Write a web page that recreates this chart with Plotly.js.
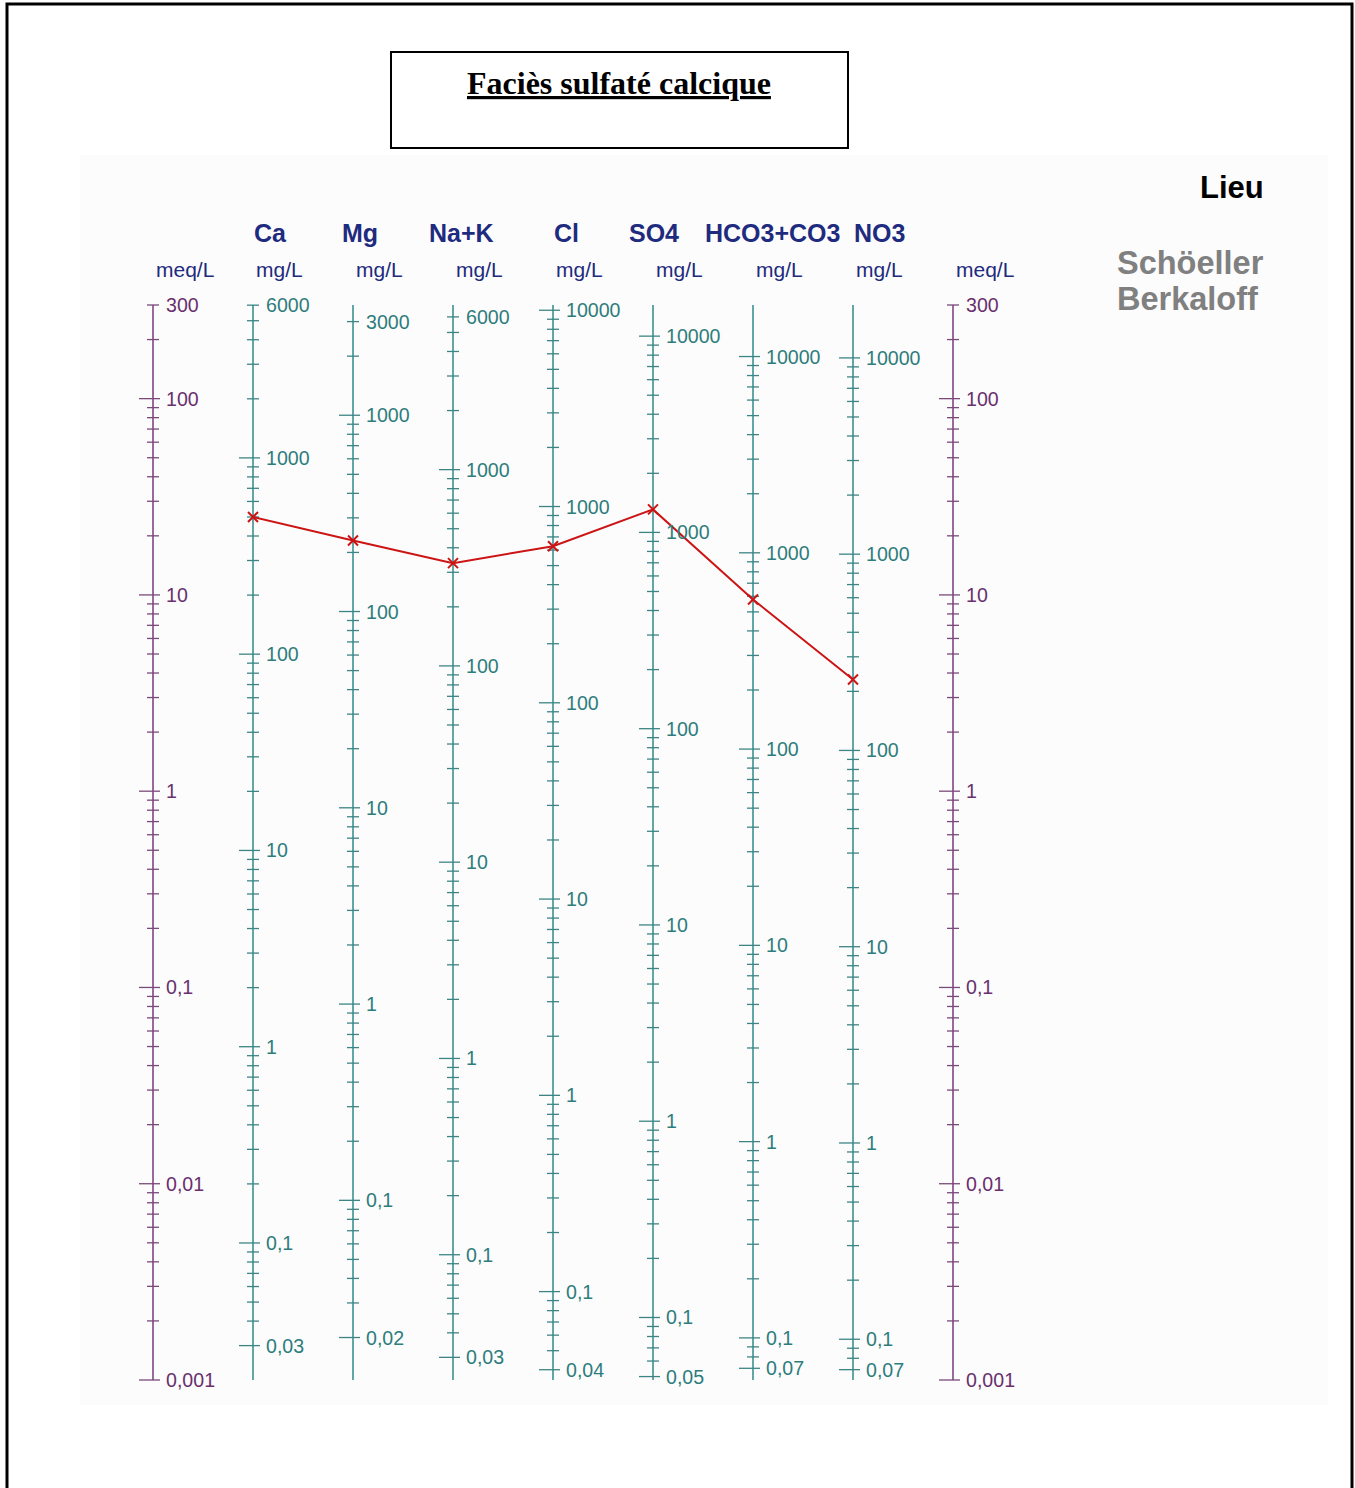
<!DOCTYPE html>
<html><head><meta charset="utf-8">
<script src="https://cdn.plot.ly/plotly-3.0.1.min.js"></script>
<style>body{margin:0;background:#fff}#chart{width:1355px;height:1488px}</style>
</head><body><div id="chart"></div><script>
// ---- data ----
const ions = ['Ca','Mg','Na+K','Cl','SO4','HCO3+CO3','NO3'];
const eqWeights = [20.04, 12.15, 23.0, 35.45, 48.03, 61.02, 62.0];   // mg per meq
const sampleMgL = [500, 230, 334, 628, 1310, 578, 230];               // Faciès sulfaté calcique
const meqLabels = [300, 100, 10, 1, 0.1, 0.01, 0.001];
const caLabels   = [6000, 1000, 100, 10, 1, 0.1, 0.03];
const mgLabels   = [3000, 1000, 100, 10, 1, 0.1, 0.02];
const naLabels   = [6000, 1000, 100, 10, 1, 0.1, 0.03];
const clLabels   = [10000, 1000, 100, 10, 1, 0.1, 0.04];
const so4Labels  = [10000, 1000, 100, 10, 1, 0.1, 0.05];
const hco3Labels = [10000, 1000, 100, 10, 1, 0.1, 0.07];
const no3Labels  = [10000, 1000, 100, 10, 1, 0.1, 0.07];
const ionLabels = [caLabels, mgLabels, naLabels, clLabels, so4Labels, hco3Labels, no3Labels];
const meqMin = 0.001, meqMax = 300;

// ---- styling ----
const W = 1355, H = 1488;
const axX0 = 153, axStep = 100;           // pixel of first axis, spacing
const yTopPx = 305, yBotPx = 1380;
const pxPerDec = (yBotPx - yTopPx) / (Math.log10(meqMax) - Math.log10(meqMin));
const yRange = [Math.log10(meqMin) - (H - yBotPx) / pxPerDec, Math.log10(meqMax) + yTopPx / pxPerDec];
const xRange = [-axX0 / axStep, (W - axX0) / axStep];
const TEAL_LINE = '#62a6a6', TEAL_TICK = '#3d8585', TEAL_TXT = '#2e7c7c';
const PURP_LINE = '#9a6a9a', PURP_TICK = '#7a4a7a', PURP_TXT = '#6a2f6e';
const NAVY = '#1f2b7e';
const FONT = 'Liberation Sans, Arial, sans-serif';

function fmt(v){ return String(v).replace('.', ','); }
function tickValues(lo, hi){
  const out = [];
  for (let k = -4; k <= 5; k++) for (let d = 1; d <= 9; d++){
    const v = +(d * Math.pow(10, k)).toPrecision(6);
    if (v >= lo * 0.9999 && v <= hi * 1.0001) out.push({v, major: d === 1});
  }
  return out;
}

const traces = [], annotations = [];
function buildAxis(idx, labels, eq, lineCol, tickCol, txtCol){
  traces.push({x:[idx, idx], y:[meqMin, meqMax], mode:'lines', line:{color:lineCol, width:2},
               hoverinfo:'skip', showlegend:false});
  const lo = Math.min(...labels), hi = Math.max(...labels);
  const tx = [], ty = [];
  tickValues(lo, hi).forEach(t => {
    const isBottom = Math.abs(t.v - lo) < 1e-9;
    const major = t.major || isBottom;
    const L = major ? 14 : 6, R = major ? 7 : 6;
    const y = t.v / eq;
    tx.push(idx - L/100, idx + R/100, null); ty.push(y, y, null);
  });
  traces.push({x:tx, y:ty, mode:'lines', line:{color:tickCol, width:1.3}, hoverinfo:'skip', showlegend:false});
  labels.forEach(v => {
    annotations.push({x: idx, y: Math.log10(v / eq), xref:'x', yref:'y', text: fmt(v), showarrow:false,
      xanchor:'left', yanchor:'middle', xshift: 11, font:{family:FONT, size:19.6, color:txtCol}});
  });
}
buildAxis(0, meqLabels, 1, PURP_LINE, PURP_TICK, PURP_TXT);
ions.forEach((n, i) => buildAxis(i + 1, ionLabels[i], eqWeights[i], TEAL_LINE, TEAL_TICK, TEAL_TXT));
buildAxis(ions.length + 1, meqLabels, 1, PURP_LINE, PURP_TICK, PURP_TXT);

// sample line
traces.push({x: ions.map((n, i) => i + 1), y: sampleMgL.map((v, i) => v / eqWeights[i]),
  mode:'lines+markers', line:{color:'#cc1414', width:2},
  marker:{symbol:'x-thin', size:10, line:{color:'#cc1414', width:2}, color:'#cc1414'},
  name:'Faciès sulfaté calcique', showlegend:false});

// headers
const py = p => 1 - p / H;
const headerPx = [270, 360, 461, 566, 654, 772, 879];
ions.forEach((n, i) => {
  annotations.push({x:(headerPx[i] - axX0)/axStep, y: py(233), xref:'x', yref:'paper', text:'<b>'+n+'</b>',
    showarrow:false, xanchor:'center', yanchor:'middle', font:{family:FONT, size:25, color:NAVY}});
  annotations.push({x: i + 1 + 0.26, y: py(270), xref:'x', yref:'paper', text:'mg/L',
    showarrow:false, xanchor:'center', yanchor:'middle', font:{family:FONT, size:21, color:NAVY}});
});
[0, ions.length + 1].forEach(i => annotations.push({x: i + 0.32, y: py(270), xref:'x', yref:'paper', text:'meq/L',
    showarrow:false, xanchor:'center', yanchor:'middle', font:{family:FONT, size:21, color:NAVY}}));

// titles
annotations.push({x: 619/W, y: py(83), xref:'paper', yref:'paper', text:'<b><u>Faciès sulfaté calcique</u></b>',
  showarrow:false, xanchor:'center', yanchor:'middle', font:{family:'Liberation Serif, Times New Roman, serif', size:32, color:'#000'}});
annotations.push({x: 1266/W, y: py(187), xref:'paper', yref:'paper', text:'<b>Lieu</b>',
  showarrow:false, xanchor:'right', yanchor:'middle', font:{family:FONT, size:31, color:'#000'}});
annotations.push({x: 1115/W, y: py(263), xref:'paper', yref:'paper', text:'<b>Schöeller</b>',
  showarrow:false, xanchor:'left', yanchor:'middle', font:{family:FONT, size:32.5, color:'#808080'}});
annotations.push({x: 1115/W, y: py(299), xref:'paper', yref:'paper', text:'<b>Berkaloff</b>',
  showarrow:false, xanchor:'left', yanchor:'middle', font:{family:FONT, size:32.5, color:'#808080'}});

const shapes = [
  {type:'rect', xref:'paper', yref:'paper', x0:80/W, x1:1328/W, y0:py(1405), y1:py(155),
   fillcolor:'#fcfcfc', line:{width:0}, layer:'below'},
  {type:'rect', xref:'paper', yref:'paper', x0:391/W, x1:848/W, y0:py(148), y1:py(52),
   line:{color:'#000', width:2}, fillcolor:'rgba(0,0,0,0)'},
  {type:'rect', xref:'paper', yref:'paper', x0:7/W, x1:1352/W, y0:py(1520), y1:py(4),
   line:{color:'#000', width:3}, fillcolor:'rgba(0,0,0,0)'}
];

const layout = {
  width: W, height: H, margin:{l:0, r:0, t:0, b:0},
  paper_bgcolor:'#fff', plot_bgcolor:'rgba(0,0,0,0)',
  xaxis:{range:xRange, visible:false, fixedrange:true},
  yaxis:{type:'log', range:yRange, visible:false, fixedrange:true},
  showlegend:false, annotations, shapes
};
Plotly.newPlot('chart', traces, layout, {staticPlot:true, displayModeBar:false});
</script></body></html>
